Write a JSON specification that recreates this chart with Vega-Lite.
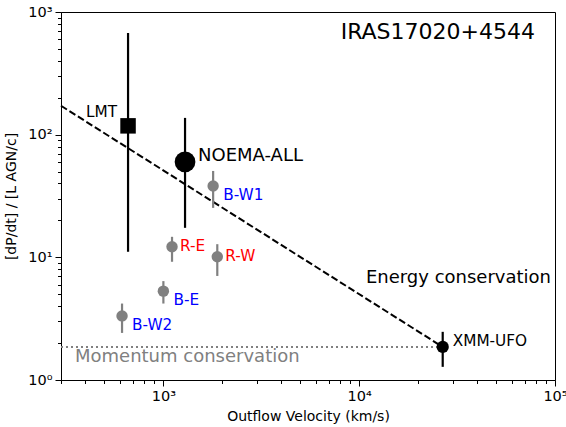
{
  "$schema": "https://vega.github.io/schema/vega-lite/v6.json",
  "width": 494,
  "height": 368,
  "autosize": {"type": "none"},
  "padding": {"left": 61, "top": 12, "right": 11, "bottom": 47},
  "background": "white",
  "config": {
    "view": {"stroke": "black", "strokeWidth": 1},
    "font": "DejaVu Sans",
    "axis": {
      "domainColor": "black", "tickColor": "black", "labelColor": "black", "titleColor": "black",
      "labelFont": "DejaVu Sans", "titleFont": "DejaVu Sans", "labelFontSize": 14.5, "titleFontSize": 14,
      "titleFontWeight": "normal", "grid": false, "labelOverlap": false, "labelBound": false, "labelFlush": false
    }
  },
  "datasets": {
    "obs": [
      {"name": "LMT", "kind": "LMT", "v": 660, "p": 118, "lo": 11.1, "hi": 674},
      {"name": "NOEMA-ALL", "kind": "NOEMA", "v": 1290, "p": 60, "lo": 17.4, "hi": 137},
      {"name": "B-W1", "kind": "blue", "v": 1795, "p": 38.2, "lo": 25.3, "hi": 50.6},
      {"name": "R-E", "kind": "red", "v": 1107, "p": 12.2, "lo": 9.2, "hi": 14.7},
      {"name": "R-W", "kind": "red", "v": 1885, "p": 10.1, "lo": 7.05, "hi": 12.8},
      {"name": "B-E", "kind": "blue", "v": 1000, "p": 5.3, "lo": 4.2, "hi": 6.4},
      {"name": "B-W2", "kind": "blue", "v": 615, "p": 3.33, "lo": 2.42, "hi": 4.2},
      {"name": "XMM-UFO", "kind": "XMM", "v": 26700, "p": 1.86, "lo": 1.28, "hi": 2.47}
    ],
    "energy": [{"v": 300, "p": 172}, {"v": 26700, "p": 1.86}],
    "momentum": [{"v": 300, "p": 1.86}, {"v": 26700, "p": 1.86}]
  },
  "layer": [
    {
      "data": {"name": "momentum"},
      "mark": {"type": "line", "color": "#808080", "strokeWidth": 2, "strokeDash": [2, 3], "clip": true},
      "encoding": {
        "x": {"field": "v", "type": "quantitative", "scale": {"type": "log", "domain": [300, 100000], "nice": false},
          "title": "Outflow Velocity (km/s)",
          "axis": {
            "values": [300, 400, 500, 600, 700, 800, 900, 1000, 2000, 3000, 4000, 5000, 6000, 7000, 8000, 9000, 10000, 20000, 30000, 40000, 50000, 60000, 70000, 80000, 90000, 100000],
            "labelExpr": "datum.value == 1000 ? '10³' : datum.value == 10000 ? '10⁴' : datum.value == 100000 ? '10⁵' : ''",
            "tickSize": {"condition": {"test": "datum.value == 1000 || datum.value == 10000 || datum.value == 100000", "value": 6}, "value": 3.5},
            "labelPadding": 3, "titlePadding": 7
          }},
        "y": {"field": "p", "type": "quantitative", "scale": {"type": "log", "domain": [1, 1000], "nice": false},
          "title": "[dP/dt] / [L AGN/c]",
          "axis": {
            "values": [1, 2, 3, 4, 5, 6, 7, 8, 9, 10, 20, 30, 40, 50, 60, 70, 80, 90, 100, 200, 300, 400, 500, 600, 700, 800, 900, 1000],
            "labelExpr": "datum.value == 1 ? '10⁰' : datum.value == 10 ? '10¹' : datum.value == 100 ? '10²' : datum.value == 1000 ? '10³' : ''",
            "tickSize": {"condition": {"test": "datum.value == 1 || datum.value == 10 || datum.value == 100 || datum.value == 1000", "value": 6}, "value": 3.5},
            "labelPadding": 3, "titlePadding": 9
          }}
      }
    },
    {
      "data": {"name": "energy"},
      "mark": {"type": "line", "color": "black", "strokeWidth": 2, "strokeDash": [7, 3]},
      "encoding": {"x": {"field": "v", "type": "quantitative"}, "y": {"field": "p", "type": "quantitative"}}
    },
    {
      "data": {"name": "obs"},
      "mark": {"type": "rule", "strokeWidth": 2.2},
      "encoding": {
        "x": {"field": "v", "type": "quantitative"},
        "y": {"field": "lo", "type": "quantitative"},
        "y2": {"field": "hi"},
        "color": {"field": "kind", "type": "nominal", "legend": null,
          "scale": {"domain": ["LMT", "NOEMA", "XMM", "blue", "red"], "range": ["black", "black", "black", "#808080", "#808080"]}}
      }
    },
    {
      "data": {"name": "obs"},
      "transform": [{"filter": "datum.kind == 'blue' || datum.kind == 'red'"}],
      "mark": {"type": "point", "shape": "circle", "filled": true, "opacity": 1, "color": "#808080", "size": 130},
      "encoding": {"x": {"field": "v", "type": "quantitative"}, "y": {"field": "p", "type": "quantitative"}}
    },
    {
      "data": {"name": "obs"},
      "transform": [{"filter": "datum.kind == 'LMT'"}],
      "mark": {"type": "point", "shape": "square", "filled": true, "opacity": 1, "color": "black", "size": 240},
      "encoding": {"x": {"field": "v", "type": "quantitative"}, "y": {"field": "p", "type": "quantitative"}}
    },
    {
      "data": {"name": "obs"},
      "transform": [{"filter": "datum.kind == 'NOEMA'"}],
      "mark": {"type": "point", "shape": "circle", "filled": true, "opacity": 1, "color": "black", "size": 430},
      "encoding": {"x": {"field": "v", "type": "quantitative"}, "y": {"field": "p", "type": "quantitative"}}
    },
    {
      "data": {"name": "obs"},
      "transform": [{"filter": "datum.kind == 'XMM'"}],
      "mark": {"type": "point", "shape": "circle", "filled": true, "opacity": 1, "color": "black", "size": 150},
      "encoding": {"x": {"field": "v", "type": "quantitative"}, "y": {"field": "p", "type": "quantitative"}}
    },
    {
      "data": {"name": "obs"},
      "transform": [{"filter": "datum.name == 'B-W1' || datum.name == 'B-E' || datum.name == 'B-W2'"}],
      "mark": {"type": "text", "align": "left", "baseline": "middle", "dx": 10, "dy": 9, "fontSize": 15.3, "color": "#0000ff"},
      "encoding": {"x": {"field": "v", "type": "quantitative"}, "y": {"field": "p", "type": "quantitative"}, "text": {"field": "name"}}
    },
    {
      "data": {"name": "obs"},
      "transform": [{"filter": "datum.name == 'R-E' || datum.name == 'R-W'"}],
      "mark": {"type": "text", "align": "left", "baseline": "middle", "dx": 8, "dy": -1, "fontSize": 15.3, "color": "#ff0000"},
      "encoding": {"x": {"field": "v", "type": "quantitative"}, "y": {"field": "p", "type": "quantitative"}, "text": {"field": "name"}}
    },
    {
      "data": {"name": "obs"},
      "transform": [{"filter": "datum.name == 'XMM-UFO'"}],
      "mark": {"type": "text", "align": "left", "baseline": "middle", "dx": 10, "dy": -6, "fontSize": 15.3, "color": "black"},
      "encoding": {"x": {"field": "v", "type": "quantitative"}, "y": {"field": "p", "type": "quantitative"}, "text": {"field": "name"}}
    },
    {
      "data": {"name": "obs"},
      "transform": [{"filter": "datum.name == 'NOEMA-ALL'"}],
      "mark": {"type": "text", "align": "left", "baseline": "middle", "dx": 13, "dy": -6, "fontSize": 18, "color": "black"},
      "encoding": {"x": {"field": "v", "type": "quantitative"}, "y": {"field": "p", "type": "quantitative"}, "text": {"field": "name"}}
    },
    {
      "data": {"name": "obs"},
      "transform": [{"filter": "datum.name == 'LMT'"}],
      "mark": {"type": "text", "align": "right", "baseline": "middle", "dx": -11, "dy": -14, "fontSize": 15.3, "color": "black"},
      "encoding": {"x": {"field": "v", "type": "quantitative"}, "y": {"field": "p", "type": "quantitative"}, "text": {"field": "name"}}
    },
    {
      "data": {"values": [{"label": "IRAS17020+4544", "v": 100000, "p": 1000}]},
      "mark": {"type": "text", "align": "right", "baseline": "middle", "dx": -20, "dy": 20, "fontSize": 22, "color": "black"},
      "encoding": {"x": {"field": "v", "type": "quantitative"}, "y": {"field": "p", "type": "quantitative"}, "text": {"field": "label"}}
    },
    {
      "data": {"values": [{"label": "Energy conservation", "v": 100000, "p": 6.8}]},
      "mark": {"type": "text", "align": "right", "baseline": "middle", "dx": -4, "fontSize": 18, "color": "black"},
      "encoding": {"x": {"field": "v", "type": "quantitative"}, "y": {"field": "p", "type": "quantitative"}, "text": {"field": "label"}}
    },
    {
      "data": {"values": [{"label": "Momentum conservation", "v": 300, "p": 1.86}]},
      "mark": {"type": "text", "align": "left", "baseline": "middle", "dx": 14, "dy": 10, "fontSize": 18, "color": "#808080"},
      "encoding": {"x": {"field": "v", "type": "quantitative"}, "y": {"field": "p", "type": "quantitative"}, "text": {"field": "label"}}
    }
  ]
}
